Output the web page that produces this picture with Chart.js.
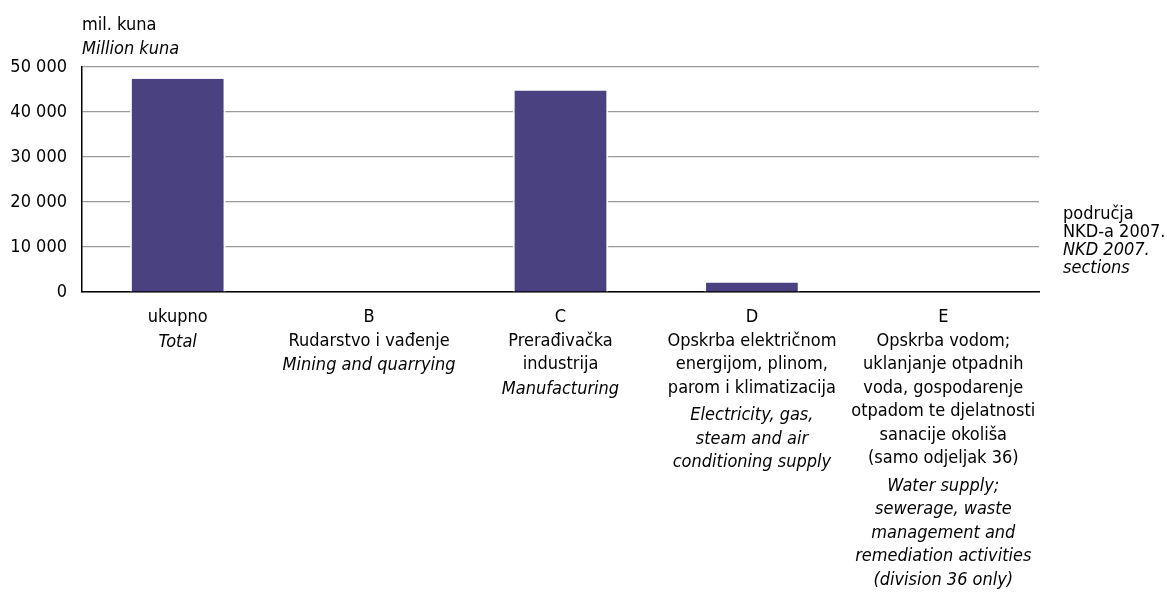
<!DOCTYPE html>
<html>
<head>
<meta charset="utf-8">
<script src="https://cdn.jsdelivr.net/npm/chart.js"></script>
<style>
html, body { margin: 0; background: #fff; }
#wrap { width: 1167px; height: 595px; }
</style>
</head>
<body>
<div id="wrap"><canvas id="chart"></canvas></div>
<script>
const codes = ['', 'B', 'C', 'D', 'E'];
const namesHr = [
    ['ukupno'],
    ['Rudarstvo i vađenje'],
    ['Prerađivačka', 'industrija'],
    ['Opskrba električnom', 'energijom, plinom,', 'parom i klimatizacija'],
    ['Opskrba vodom;', 'uklanjanje otpadnih', 'voda, gospodarenje', 'otpadom te djelatnosti', 'sanacije okoliša', '(samo odjeljak 36)']
];
const namesEn = [
    ['Total'],
    ['Mining and quarrying'],
    ['Manufacturing'],
    ['Electricity, gas,', 'steam and air', 'conditioning supply'],
    ['Water supply;', 'sewerage, waste', 'management and', 'remediation activities', '(division 36 only)']
];
const values = [47400, 0, 44800, 2100, 0];
const yTicks = [0, 10000, 20000, 30000, 40000, 50000];

const FAMILY = '"DejaVu Sans Condensed", "Liberation Sans", sans-serif';
const FONT = '18px ' + FAMILY;
const LH = 23.5;

const fmt = v => String(v).replace(/\B(?=(\d{3})+(?!\d))/g, ' ');

// category labels, axis titles
const labelPlugin = {
    id: 'labels',
    afterDraw(chart) {
        const ctx = chart.ctx, x = chart.scales.x, area = chart.chartArea;
        ctx.save();
        ctx.fillStyle = '#000';
        ctx.textBaseline = 'middle';
        ctx.textAlign = 'center';
        codes.forEach((c, i) => {
            const px = x.getPixelForValue(i);
            let y = area.bottom + 25.5;
            ctx.font = FONT;
            if (c) { ctx.fillText(c, px, y); y += LH; }
            namesHr[i].forEach(t => { ctx.fillText(t, px, y); y += LH; });
            y += i >= 3 ? 4 : 1;
            ctx.font = 'italic ' + FONT;
            namesEn[i].forEach(t => { ctx.fillText(t, px, y); y += LH; });
        });

        ctx.textAlign = 'left';
        ctx.font = FONT;
        ctx.fillText('mil. kuna', area.left, area.top - 42);
        ctx.font = 'italic ' + FONT;
        ctx.fillText('Million kuna', area.left, area.top - 18);

        const rx = area.right + 24;
        ctx.font = FONT;
        ctx.fillText('područja', rx, area.bottom - 78);
        ctx.fillText('NKD-a 2007.', rx, area.bottom - 60);
        ctx.font = 'italic ' + FONT;
        ctx.fillText('NKD 2007.', rx, area.bottom - 42);
        ctx.fillText('sections', rx, area.bottom - 24);
        ctx.restore();
    }
};

new Chart(document.getElementById('chart'), {
    type: 'bar',
    data: {
        labels: codes.map((c, i) => c || namesHr[i][0]),
        datasets: [{
            data: values,
            backgroundColor: '#4a4181',
            borderColor: '#fff',
            borderWidth: { left: 2, right: 2, top: 0, bottom: 0 },
            barPercentage: 0.5,
            categoryPercentage: 1
        }]
    },
    options: {
        responsive: true,
        maintainAspectRatio: false,
        animation: false,
        layout: { padding: { left: 0, right: 128, top: 67, bottom: 303 } },
        plugins: { legend: { display: false }, tooltip: { enabled: false } },
        scales: {
            x: {
                grid: { display: false },
                border: { color: '#000', width: 1.5 },
                ticks: { display: false },
                afterFit(s) { s.height = 0; }
            },
            y: {
                min: 0,
                max: 50000,
                afterBuildTicks(s) { s.ticks = yTicks.map(v => ({ value: v })); },
                grid: { color: '#9a9a9a', lineWidth: 1.2, drawTicks: false },
                border: { color: '#000', width: 1.5 },
                ticks: {
                    padding: 15,
                    color: '#000',
                    font: { family: FAMILY, size: 18 },
                    callback: v => fmt(v)
                },
                afterFit(s) { s.width = 82; }
            }
        }
    },
    plugins: [labelPlugin]
});
</script>
</body>
</html>
